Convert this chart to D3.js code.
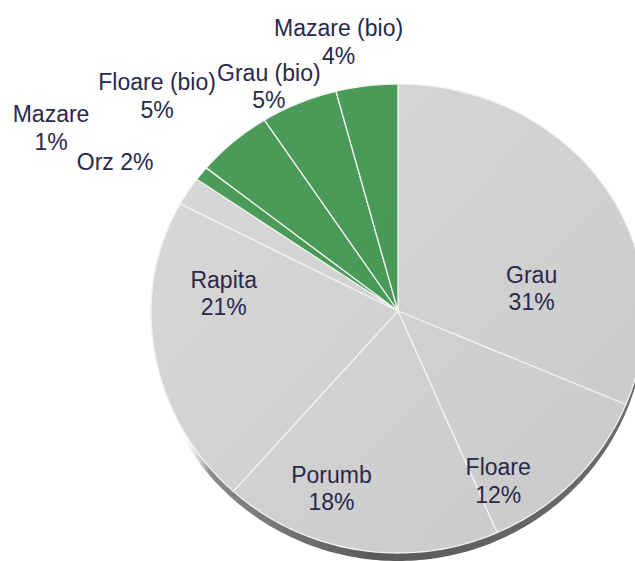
<!DOCTYPE html>
<html>
<head>
<meta charset="utf-8">
<script src="https://cdn.jsdelivr.net/npm/d3@7"></script>
<style>
  html, body { margin: 0; padding: 0; background: #ffffff; }
  svg { display: block; }
</style>
</head>
<body>
<div id="root"></div>
<script>
const width = 635;
const height = 561;

// data
const categories = ["Grau", "Floare", "Porumb", "Rapita", "Orz", "Mazare", "Floare (bio)", "Grau (bio)", "Mazare (bio)"];
const shares = [31, 12, 18, 21, 2, 1, 5, 5, 4];
const highlighted = [false, false, false, false, false, true, true, true, true];

// label placement: [angle shift from slice middle (deg), radius as fraction of pie radius, one line?]
const labelNudge = [
	[23.2, 0.55, false],
	[15.4, 0.81, false],
	[11.1, 0.78, false],
	[16.3, 0.71, false],
	[-2.0, 1.32, true],
	[-7.4, 1.62, false],
	[-4.0, 1.36, false],
	[-4.2, 1.12, false],
	[-4.2, 1.21, false]
];

// tilted pie geometry (far half looks shorter than the near half)
const cx = 398, cy = 311;
const rx = 247, ryTop = 227, ryBot = 242;
const rimDepth = 8;

const project = ([x, y]) => [cx + x * rx, cy + y * (y < 0 ? ryTop : ryBot)];

const data = categories.map((name, i) => ({ name, value: shares[i], green: highlighted[i], nudge: labelNudge[i] }));
const total = d3.sum(shares);

const pie = d3.pie().sort(null).value(d => d.value);
const arcs = pie(data);

const line = d3.line();

const slicePath = (a) => {
	const steps = Math.max(2, Math.ceil((a.endAngle - a.startAngle) / (Math.PI / 180)));
	const pts = d3.range(steps + 1).map(k => {
		const t = a.startAngle + (a.endAngle - a.startAngle) * k / steps;
		return project([Math.sin(t), -Math.cos(t)]);
	});
	return line([[cx, cy], ...pts]) + "Z";
};

const outline = () => {
	const pts = d3.range(361).map(k => {
		const t = k * Math.PI / 180;
		return project([Math.sin(t), -Math.cos(t)]);
	});
	return line(pts) + "Z";
};

const svg = d3.select("#root")
	.append("svg")
		.attr("width", width)
		.attr("height", height);

const defs = svg.append("defs");

const greyGrad = defs.append("linearGradient")
	.attr("id", "greyFace")
	.attr("gradientUnits", "userSpaceOnUse")
	.attr("x1", cx - rx).attr("y1", cy - ryTop)
	.attr("x2", cx + rx).attr("y2", cy + ryBot);
greyGrad.append("stop").attr("offset", "0%").attr("stop-color", "#d9d9d9");
greyGrad.append("stop").attr("offset", "100%").attr("stop-color", "#c9c9c9");

const greenGrad = defs.append("linearGradient")
	.attr("id", "greenFace")
	.attr("gradientUnits", "userSpaceOnUse")
	.attr("x1", cx - rx).attr("y1", cy - ryTop)
	.attr("x2", cx + rx).attr("y2", cy + ryBot);
greenGrad.append("stop").attr("offset", "0%").attr("stop-color", "#4c9d59");
greenGrad.append("stop").attr("offset", "100%").attr("stop-color", "#469554");

const rimGrad = defs.append("linearGradient")
	.attr("id", "rim")
	.attr("gradientUnits", "userSpaceOnUse")
	.attr("x1", cx - rx).attr("y1", 0)
	.attr("x2", cx + rx).attr("y2", 0);
rimGrad.append("stop").attr("offset", "0%").attr("stop-color", "#ffffff").attr("stop-opacity", 0);
rimGrad.append("stop").attr("offset", "6%").attr("stop-color", "#ffffff").attr("stop-opacity", 0);
rimGrad.append("stop").attr("offset", "12%").attr("stop-color", "#8a8a8a");
rimGrad.append("stop").attr("offset", "45%").attr("stop-color", "#5a5a5a");
rimGrad.append("stop").attr("offset", "100%").attr("stop-color", "#6c6c6c");

// side of the pie
svg.append("path")
	.attr("d", outline())
	.attr("transform", `translate(0, ${rimDepth})`)
	.style("fill", "url(#rim)");

// top face
svg.append("g")
	.selectAll("path")
	.data(arcs).enter()
	.append("path")
		.attr("d", slicePath)
		.style("fill", d => d.data.green ? "url(#greenFace)" : "url(#greyFace)")
		.style("stroke", "#f2f2f2")
		.style("stroke-width", 1.3)
		.style("stroke-linejoin", "round");

// labels
const fmt = v => Math.round(v / total * 100) + "%";
const labelArc = (k) => d3.arc().innerRadius(k).outerRadius(k);

const labels = svg.append("g")
	.style("font-family", "'Liberation Sans', Arial, sans-serif")
	.style("font-size", "23px")
	.style("fill", "#29284b")
	.attr("text-anchor", "middle")
	.selectAll("text")
	.data(arcs).enter()
	.append("text")
		.attr("transform", d => {
			const mid = (d.startAngle + d.endAngle) / 2 + d.data.nudge[0] * Math.PI / 180;
			const p = project(labelArc(d.data.nudge[1]).centroid({ startAngle: mid, endAngle: mid }));
			return `translate(${p[0]}, ${p[1]})`;
		});

labels.each(function(d) {
	const t = d3.select(this);
	if (d.data.nudge[2]) {
		t.append("tspan").attr("x", 0).attr("dy", 8).text(`${d.data.name} ${fmt(d.data.value)}`);
	} else {
		t.append("tspan").attr("x", 0).attr("dy", -5.5).text(d.data.name);
		t.append("tspan").attr("x", 0).attr("dy", 27.5).text(fmt(d.data.value));
	}
});
</script>
</body>
</html>
